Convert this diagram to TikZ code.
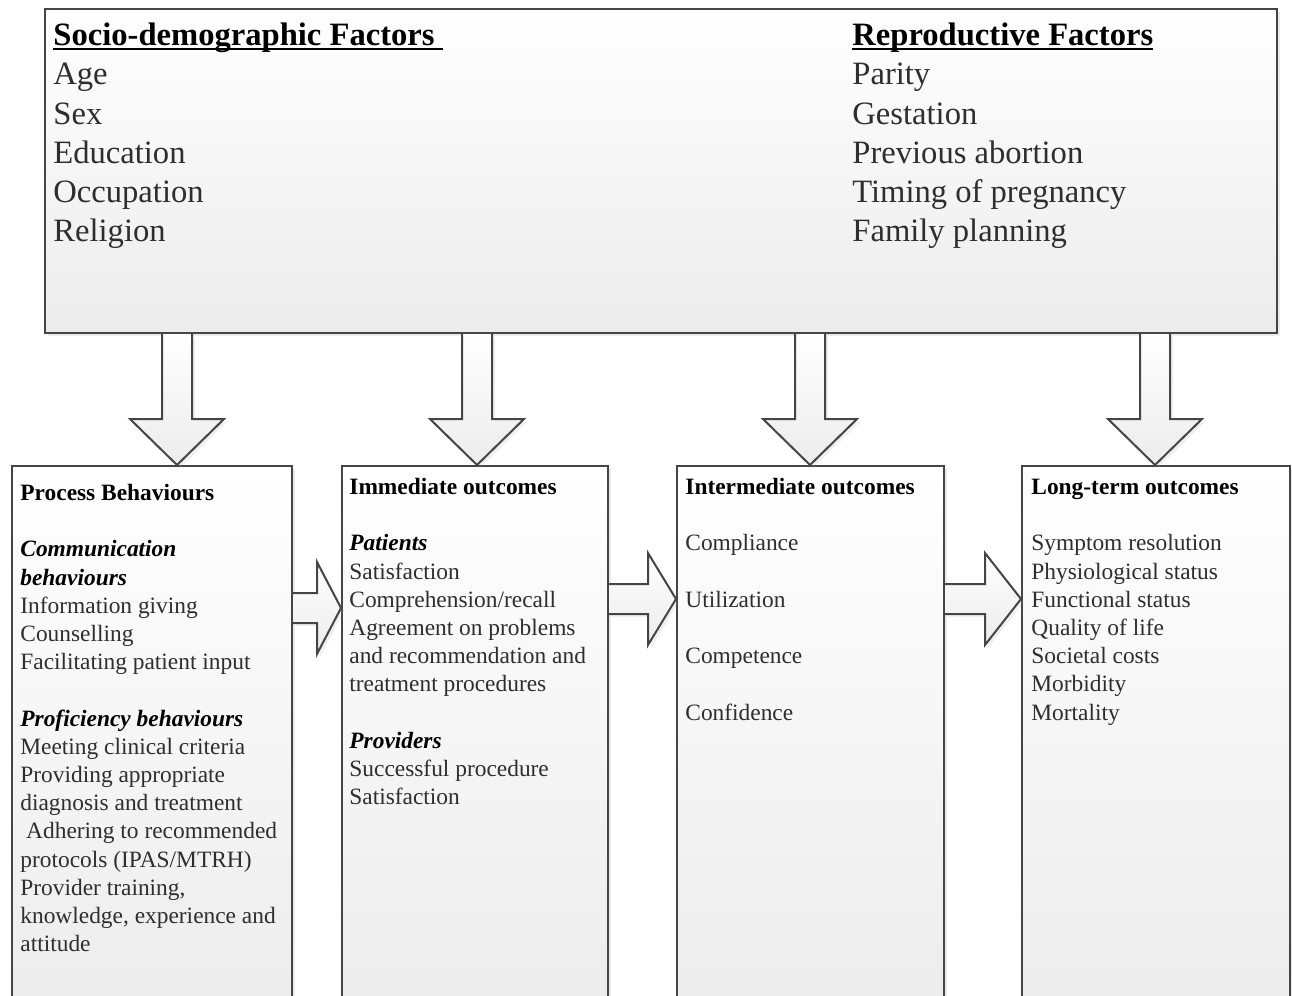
\documentclass[tikz,border=0pt]{standalone}
\usepackage{fontspec}
\setmainfont{Liberation Serif}
\usetikzlibrary{positioning,shadows,calc}
\definecolor{edge}{HTML}{454545}
\definecolor{ink}{HTML}{2E2E2E}
\definecolor{shade}{HTML}{ECECEC}

% underlined heading
\newcommand{\uln}[1]{\setbox0\hbox{#1}\rlap{\rule[-2.2pt]{\wd0}{0.9pt}}\box0}
% fixed top of a text block
\newcommand{\topbig}{\rule{0pt}{12pt}}
\newcommand{\topsmall}{\rule{0pt}{9pt}}
% block arrow pointing down: #1 = x (px), #2 = target node
\newcommand{\fatdown}[2]{%
  \path[fatarrow] let \p1=(#1,0), \p2=(factors.south), \p3=(#2.north) in
    (\x1-7.5pt,\y2) -- (\x1-7.5pt,\y3+23pt) -- (\x1-23.5pt,\y3+23pt) -- (\x1,\y3)
    -- (\x1+23.5pt,\y3+23pt) -- (\x1+7.5pt,\y3+23pt) -- (\x1+7.5pt,\y2);
}
% block arrow pointing right: #1 = y (px), #2 = source, #3 = target, #4 = head length
\newcommand{\fatright}[4]{%
  \path[fatarrow] let \p1=(0,#1), \p2=(#2.east), \p3=(#3.west) in
    (\x2,\y1+7.5pt) -- (\x3-#4,\y1+7.5pt) -- (\x3-#4,\y1+23pt) -- (\x3,\y1)
    -- (\x3-#4,\y1-23pt) -- (\x3-#4,\y1-7.5pt) -- (\x2,\y1-7.5pt);
}

\begin{document}
\begin{tikzpicture}[x=0.5pt,y=-0.5pt,
    panel/.style={draw=edge, line width=1pt, inner sep=0pt, anchor=north west,
      top color=white, bottom color=shade,
      drop shadow={shadow xshift=1.5pt, shadow yshift=-1.5pt, opacity=0.2, fill=black!40}},
    fatarrow/.style={draw=edge, line width=1pt, top color=white, bottom color=shade,
      drop shadow={shadow xshift=1.5pt, shadow yshift=-1.5pt, opacity=0.15, fill=black!40}},
    bigtxt/.style={anchor=north west, inner sep=0pt, align=left, text=ink,
      font=\fontsize{16.3}{19.65}\selectfont},
    smalltxt/.style={anchor=north west, inner sep=0pt, align=left, text=ink,
      font=\fontsize{11.7}{14.1}\selectfont}
]
    \useasboundingbox (0,0) rectangle (1292,996);

    % factor box
    \node[panel, minimum width=616pt, minimum height=162pt] (factors) at (44,8) {};
    \node[bigtxt] (socio) at ([xshift=4.5pt, yshift=-6.5pt]factors.north west)
      {\topbig\textcolor{black}{\uln{\textbf{Socio-demographic Factors}\ }}\\
       Age\\Sex\\Education\\Occupation\\Religion};
    \node[bigtxt] (repro) at ([xshift=404pt, yshift=-6.5pt]factors.north west)
      {\topbig\textcolor{black}{\uln{\textbf{Reproductive Factors}}}\\
       Parity\\Gestation\\Previous abortion\\Timing of pregnancy\\Family planning};

    % outcome boxes
    \node[panel, minimum width=140pt, minimum height=275pt] (process) at (11,465) {};
    \node[panel, minimum width=133pt, minimum height=275pt] (immediate) at (341,465) {};
    \node[panel, minimum width=133.5pt, minimum height=275pt] (intermediate) at (676,465) {};
    \node[panel, minimum width=134pt, minimum height=275pt] (longterm) at (1021,465) {};

    \node[smalltxt] (processtxt) at ([xshift=4.5pt, yshift=-8.5pt]process.north west)
      {\topsmall\textcolor{black}{\textbf{Process Behaviours}}\\[14.1pt]
       \textcolor{black}{\textbf{\textit{Communication}}}\\
       \textcolor{black}{\textbf{\textit{behaviours}}}\\
       Information giving\\Counselling\\Facilitating patient input\\[14.1pt]
       \textcolor{black}{\textbf{\textit{Proficiency behaviours}}}\\
       Meeting clinical criteria\\Providing appropriate\\diagnosis and treatment\\
       \ Adhering to recommended\\protocols (IPAS/MTRH)\\Provider training,\\
       knowledge, experience and\\attitude};
    \node[smalltxt] (immediatetxt) at ([xshift=4pt, yshift=-5.5pt]immediate.north west)
      {\topsmall\textcolor{black}{\textbf{Immediate outcomes}}\\[14.1pt]
       \textcolor{black}{\textbf{\textit{Patients}}}\\
       Satisfaction\\Comprehension/recall\\Agreement on problems\\
       and recommendation and\\treatment procedures\\[14.1pt]
       \textcolor{black}{\textbf{\textit{Providers}}}\\
       Successful procedure\\Satisfaction};
    \node[smalltxt] (intermediatetxt) at ([xshift=4.5pt, yshift=-5.5pt]intermediate.north west)
      {\topsmall\textcolor{black}{\textbf{Intermediate outcomes}}\\[14.1pt]
       Compliance\\[14.1pt]Utilization\\[14.1pt]Competence\\[14.1pt]Confidence};
    \node[smalltxt] (longtermtxt) at ([xshift=5pt, yshift=-5.5pt]longterm.north west)
      {\topsmall\textcolor{black}{\textbf{Long-term outcomes}}\\[14.1pt]
       Symptom resolution\\Physiological status\\Functional status\\Quality of life\\
       Societal costs\\Morbidity\\Mortality};

    % block arrows
    \fatdown{177}{process}
    \fatdown{477}{immediate}
    \fatdown{810}{intermediate}
    \fatdown{1155}{longterm}
    \fatright{608}{process}{immediate}{12pt}
    \fatright{599}{immediate}{intermediate}{14pt}
    \fatright{599}{intermediate}{longterm}{18pt}
\end{tikzpicture}
\end{document}
